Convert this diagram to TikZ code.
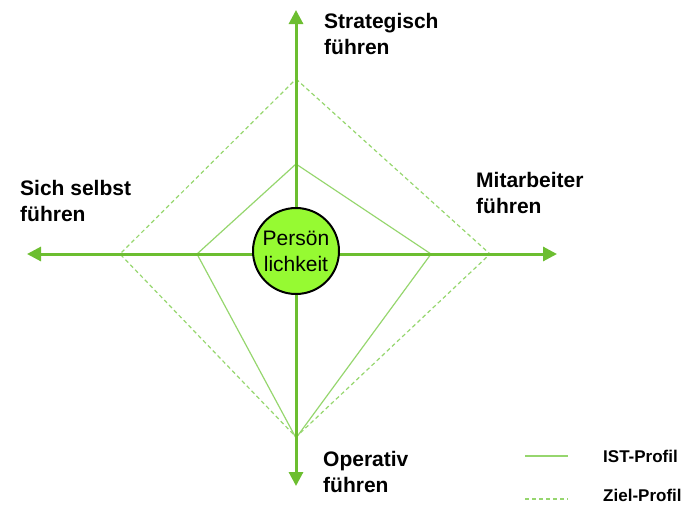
\documentclass[tikz,border=0pt]{standalone}
\usepackage{fontspec}
\setmainfont{Liberation Sans}
\usetikzlibrary{arrows.meta,positioning}

\definecolor{axis-green}{RGB}{108,190,48}
\definecolor{profile-green}{RGB}{150,214,110}
\definecolor{core-green}{RGB}{150,250,50}

\begin{document}
\begin{tikzpicture}[x=1pt, y=-1pt]

  \tikzset{
    axis line/.style={draw=axis-green, line width=3pt,
      {Triangle[length=14pt,width=14pt]}-{Triangle[length=14pt,width=14pt]}},
    ist line/.style={draw=profile-green, line width=1.2pt, line join=miter},
    ziel line/.style={draw=profile-green, line width=1.2pt, dash pattern=on 4pt off 3pt},
    axis label/.style={anchor=north west, inner sep=0pt, align=left,
      font=\fontsize{21}{26}\selectfont\bfseries},
    key label/.style={anchor=base west, inner sep=0pt,
      font=\fontsize{17}{20}\selectfont\bfseries},
    core/.style={circle, draw=black, line width=2pt, fill=core-green,
      minimum size=86pt, inner sep=0pt, align=center,
      font=\fontsize{21}{26}\selectfont}
  }

  \useasboundingbox (0,0) rectangle (684,504);

  % Ends of the two axes.
  \coordinate (top) at (296,10);
  \coordinate (bottom) at (296,486);
  \coordinate (left) at (27,254);
  \coordinate (right) at (557,254);

  % Corners of the IST profile.
  \coordinate (ist-n) at (296,164);
  \coordinate (ist-e) at (431,254);
  \coordinate (ist-s) at (296,438);
  \coordinate (ist-w) at (197,254);

  % Corners of the Ziel profile.
  \coordinate (ziel-n) at (296,79);
  \coordinate (ziel-e) at (490,254);
  \coordinate (ziel-s) at (296,437);
  \coordinate (ziel-w) at (120,254);

  % Draw the two profiles.
  \draw [ziel line] (ziel-n) -- (ziel-e) -- (ziel-s) -- (ziel-w) -- cycle;
  \draw [ist line] (ist-n) -- (ist-e) -- (ist-s) -- (ist-w) -- cycle;

  % Draw the axes.
  \draw [axis line] (bottom) -- (top);
  \draw [axis line] (left) -- (right);

  % Place the centre circle on top of the axes.
  \node [core] (person) at (296,251) {Persön\\lichkeit};

  % Label the axes.
  \node [axis label] (strategisch) at (324,13) {Strategisch\\führen};
  \node [axis label] (mitarbeiter) at (476,172.5) {Mitarbeiter\\führen};
  \node [axis label] (selbst) at (20,180.5) {Sich selbst\\führen};
  \node [axis label] (operativ) at (323,451.5) {Operativ\\führen};

  % Key.
  \coordinate (ist-key-a) at (525,456);
  \coordinate (ist-key-b) at (568,456);
  \coordinate (ziel-key-a) at (525,499);
  \coordinate (ziel-key-b) at (568,499);

  \draw [ist line] (ist-key-a) -- (ist-key-b);
  \draw [ziel line] (ziel-key-a) -- (ziel-key-b);

  \node [key label] (ist-key) at (603,462) {IST-Profil};
  \node [key label] (ziel-key) at (603,501) {Ziel-Profil};

\end{tikzpicture}
\end{document}
